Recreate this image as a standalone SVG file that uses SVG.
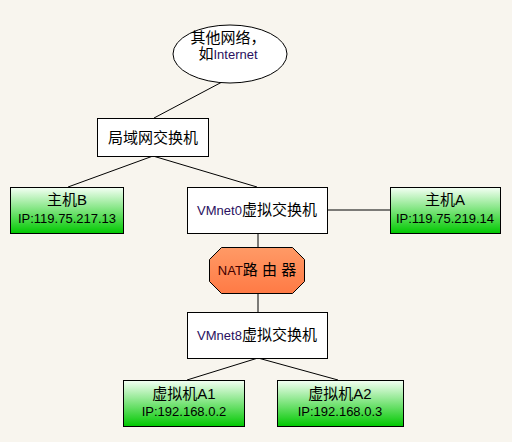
<svg xmlns="http://www.w3.org/2000/svg" width="512" height="442" viewBox="0 0 512 442">
<defs>
<linearGradient id="green" x1="0" y1="0" x2="0" y2="1">
<stop offset="0" stop-color="#f4fff4"/>
<stop offset="1" stop-color="#00c800"/>
</linearGradient>
<linearGradient id="orange" x1="0" y1="0" x2="0" y2="1">
<stop offset="0" stop-color="#ff9a66"/>
<stop offset="1" stop-color="#ff7a45"/>
</linearGradient>
<style>
.box{fill:#ffffff;stroke:#000;stroke-width:1}
.gbox{fill:url(#green);stroke:#000;stroke-width:1}
.t{font-family:"Liberation Sans","Noto Sans CJK SC",sans-serif;font-size:15px;fill:#000;text-anchor:middle}
.ip{font-family:"Liberation Sans","Noto Sans CJK SC",sans-serif;font-size:13px;fill:#000;text-anchor:middle}
.c{stroke:#000;stroke-width:1;fill:none}
</style>
</defs>
<rect x="0" y="0" width="512" height="442" fill="#f8f5ee"/>
<g id="connectors">
<line class="c" x1="222" y1="82" x2="154" y2="118"/>
<line class="c" x1="153" y1="156" x2="68" y2="187"/>
<line class="c" x1="153" y1="156" x2="257" y2="187"/>
<line class="c" x1="328" y1="210" x2="390" y2="210"/>
<line class="c" x1="258" y1="233" x2="258" y2="247"/>
<line class="c" x1="258" y1="293" x2="258" y2="312"/>
<line class="c" x1="258" y1="358" x2="187" y2="380"/>
<line class="c" x1="258" y1="358" x2="338" y2="380"/>
</g>
<g id="internet">
<ellipse cx="230" cy="54" rx="57" ry="29" fill="#fff" stroke="#000"/>
<text class="t" x="228" y="43">其他网络，</text>
<text class="t" x="228" y="59"><tspan>如</tspan><tspan font-size="13" fill="#2a1060">Internet</tspan></text>
</g>
<g id="lan-switch">
<rect class="box" x="97.5" y="118.5" width="111" height="38"/>
<text class="t" x="153" y="143">局域网交换机</text>
</g>
<g id="host-b">
<rect class="gbox" x="10.5" y="187.5" width="113" height="46"/>
<text class="t" x="67" y="205">主机B</text>
<text class="ip" x="67" y="223">IP:119.75.217.13</text>
</g>
<g id="vmnet0">
<rect class="box" x="187.5" y="187.5" width="140" height="46"/>
<text class="t" x="257" y="215"><tspan font-size="13" fill="#2a1060">VMnet0</tspan><tspan>虚拟交换机</tspan></text>
</g>
<g id="host-a">
<rect class="gbox" x="390.5" y="187.5" width="110" height="46"/>
<text class="t" x="445" y="205">主机A</text>
<text class="ip" x="445" y="223">IP:119.75.219.14</text>
</g>
<g id="nat">
<polygon points="221.5,247.5 292.5,247.5 304.5,259.5 304.5,281.5 292.5,293.5 221.5,293.5 209.5,281.5 209.5,259.5" fill="url(#orange)" stroke="#000"/>
<text class="t" x="257" y="275"><tspan font-size="13" fill="#400000">NAT</tspan><tspan>路 由 器</tspan></text>
</g>
<g id="vmnet8">
<rect class="box" x="187.5" y="312.5" width="140" height="46"/>
<text class="t" x="257" y="340"><tspan font-size="13" fill="#2a1060">VMnet8</tspan><tspan>虚拟交换机</tspan></text>
</g>
<g id="vm-a1">
<rect class="gbox" x="123.5" y="380.5" width="121" height="46"/>
<text class="t" x="184" y="399">虚拟机A1</text>
<text class="ip" x="184" y="416">IP:192.168.0.2</text>
</g>
<g id="vm-a2">
<rect class="gbox" x="277.5" y="380.5" width="126" height="46"/>
<text class="t" x="340" y="399">虚拟机A2</text>
<text class="ip" x="340" y="416">IP:192.168.0.3</text>
</g>
</svg>
